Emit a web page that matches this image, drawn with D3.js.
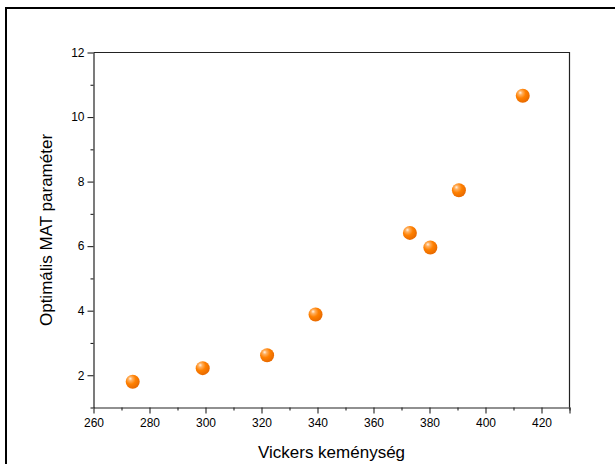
<!DOCTYPE html>
<html>
<head>
<meta charset="utf-8">
<script src="https://cdn.jsdelivr.net/npm/d3@7"></script>
<style>
  html, body { margin: 0; padding: 0; background: #fff; }
  svg { display: block; font-family: "Liberation Sans", Arial, sans-serif; }
</style>
</head>
<body>
<svg id="chart" width="615" height="464"></svg>
<script>
// Vickers hardness vs. optimal MAT parameter
const hardness = [274, 299, 322, 339.3, 373, 380.3, 390.5, 413.3];
const matParam = [1.8, 2.22, 2.62, 3.88, 6.41, 5.96, 7.73, 10.66];
const xTicks = [260, 280, 300, 320, 340, 360, 380, 400, 420];
const yTicks = [2, 4, 6, 8, 10, 12];
const xTitle = "Vickers keménység";
const yTitle = "Optimális MAT paraméter";

const svg = d3.select("#chart");
const plotL = 93.5, plotR = 569.5, plotT = 52.5, plotB = 407.5;

const x = d3.scaleLinear().domain([260, 430]).range([plotL, plotR]);
const y = d3.scaleLinear().domain([1, 12]).range([plotB, plotT]);

// outer frame
svg.append("rect")
  .attr("x", 6).attr("y", 8).attr("width", 640).attr("height", 500)
  .attr("fill", "none").attr("stroke", "#000").attr("stroke-width", 2);

// sphere-style marker gradient
const defs = svg.append("defs");
const grad = defs.append("radialGradient")
  .attr("id", "ball").attr("cx", "38%").attr("cy", "35%").attr("r", "65%")
  .attr("fx", "32%").attr("fy", "28%");
grad.append("stop").attr("offset", "0%").attr("stop-color", "#fff3e6");
grad.append("stop").attr("offset", "22%").attr("stop-color", "#ffb060");
grad.append("stop").attr("offset", "55%").attr("stop-color", "#ff8000");
grad.append("stop").attr("offset", "100%").attr("stop-color", "#e86a00");

// plot box (top and right edges)
svg.append("path")
  .attr("d", `M${plotL},${plotT}H${plotR}V${plotB}`)
  .attr("fill", "none").attr("stroke", "#222").attr("stroke-width", 1.2);

const tickFmt = d => d;

// x axis: major ticks labelled, minor ticks between
const xAxis = svg.append("g").attr("transform", `translate(0,${plotB})`);
xAxis.call(d3.axisBottom(x).tickValues(d3.range(270, 431, 20)).tickSize(3).tickFormat(""));
xAxis.call(g => g.selectAll(".domain").remove());
const xMaj = svg.append("g").attr("transform", `translate(0,${plotB})`)
  .call(d3.axisBottom(x).tickValues(xTicks.concat([430])).tickSize(6).tickSizeOuter(0)
    .tickFormat(d => xTicks.includes(d) ? tickFmt(d) : ""));
xMaj.select(".domain").attr("stroke", "#222").attr("stroke-width", 1.2);

// y axis
const yAxis = svg.append("g").attr("transform", `translate(${plotL},0)`);
yAxis.call(d3.axisLeft(y).tickValues([1, 3, 5, 7, 9, 11]).tickSize(3).tickFormat(""));
yAxis.call(g => g.selectAll(".domain").remove());
const yMaj = svg.append("g").attr("transform", `translate(${plotL},0)`)
  .call(d3.axisLeft(y).tickValues(yTicks).tickSize(6).tickSizeOuter(0).tickFormat(tickFmt));
yMaj.select(".domain").attr("stroke", "#222").attr("stroke-width", 1.2);

svg.selectAll(".tick line").attr("stroke", "#222").attr("stroke-width", 1.1);
svg.selectAll(".tick text").attr("fill", "#000").attr("font-size", 12)
  .attr("font-family", "Liberation Sans, Arial, sans-serif");
xMaj.selectAll(".tick text").attr("dy", "0.71em").attr("y", 11);
yMaj.selectAll(".tick text").attr("x", -9);

// axis titles
svg.append("text")
  .attr("x", (plotL + plotR) / 2).attr("y", 458)
  .attr("text-anchor", "middle").attr("font-size", 17).attr("fill", "#000")
  .text(xTitle);
svg.append("text")
  .attr("transform", `translate(52,${(plotT + plotB) / 2}) rotate(-90)`)
  .attr("text-anchor", "middle").attr("font-size", 17).attr("fill", "#000")
  .text(yTitle);

// points
svg.append("g").selectAll("circle")
  .data(hardness.map((h, i) => [h, matParam[i]]))
  .join("circle")
  .attr("cx", d => x(d[0])).attr("cy", d => y(d[1]))
  .attr("r", 7)
  .attr("fill", "url(#ball)");
</script>
</body>
</html>
